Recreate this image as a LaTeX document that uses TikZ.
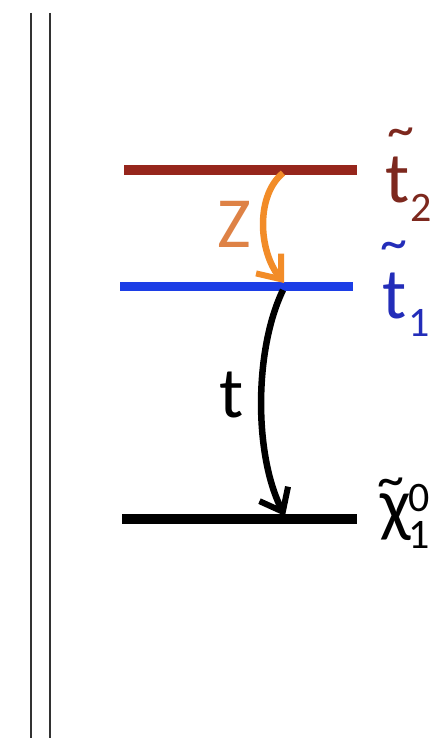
\documentclass[tikz,border=0pt]{standalone}
\usepackage{fontspec}
\setmainfont{Carlito}
\usetikzlibrary{arrows.meta}
\definecolor{stopred}{RGB}{150,38,28}
\definecolor{stopredtext}{RGB}{125,40,30}
\definecolor{stopblue}{RGB}{28,62,230}
\definecolor{stopbluetext}{RGB}{35,45,185}
\definecolor{zorange}{RGB}{242,140,40}
\definecolor{zorangetext}{RGB}{222,130,70}
\definecolor{rulegray}{RGB}{50,50,50}
\tikzset{
  level/.style={line width=10pt},
  decay/.style={line width=6.5pt,-{Straight Barb[length=20pt,width=32pt,line width=6pt]}},
  big/.style={inner sep=0pt,font=\fontsize{72}{80}\selectfont},
  small/.style={inner sep=0pt,font=\fontsize{42}{46}\selectfont},
  tild/.style={inner sep=0pt,font=\fontsize{54}{58}\selectfont},
  vrule/.style={line width=2pt,rulegray}
}
\begin{document}
\begin{tikzpicture}[x=1pt,y=-1pt]
\useasboundingbox[fill=white] (0,0) rectangle (433,738);
% vertical double line
\coordinate (v1t) at (31,13); \coordinate (v1b) at (31,738);
\coordinate (v2t) at (50,13); \coordinate (v2b) at (50,738);
\draw[vrule] (v1t) -- (v1b);
\draw[vrule] (v2t) -- (v2b);
% levels
\coordinate (t2l) at (124,170); \coordinate (t2r) at (357,170);
\coordinate (t1l) at (120,286); \coordinate (t1r) at (353,286);
\coordinate (cl) at (122,519); \coordinate (cr) at (357,519);
\draw[level,stopred] (t2l) -- (t2r);
\draw[level,stopblue,line width=9pt] (t1l) -- (t1r);
\draw[level,black] (cl) -- (cr);
% decay points
\coordinate (za) at (283,173);
\coordinate (zb) at (284,283);
\coordinate (ta) at (283,290);
\coordinate (tb) at (285,516);
\draw[decay,zorange] (za) .. controls (256,195) and (258,250) .. (zb);
\draw[decay,black] (ta) .. controls (254,350) and (254,455) .. (tb);
% decay labels
\node[big,zorangetext,anchor=base west] (zlab) at (217,247) {Z};
\node[big,black,anchor=base west] (tlab) at (219,417) {t};
% t2 label
\node[big,stopredtext,anchor=base west] (t2t) at (385,202) {t};
\node[small,stopredtext,anchor=base west] (t2s) at (410,221) {2};
\node[tild,stopredtext] (t2w) at (401,138) {\textasciitilde};
% t1 label
\node[big,stopbluetext,anchor=base west] (t1t) at (382,318) {t};
\node[small,stopbluetext,anchor=base west] (t1s) at (408,336) {1};
\node[tild,stopbluetext] (t1w) at (394,251) {\textasciitilde};
% chi label
\node[big,black,anchor=base west] (cht) at (380,528) {χ};
\node[small,black,anchor=base west] (chsup) at (408,511) {0};
\node[small,black,anchor=base west] (chsub) at (408,548) {1};
\node[tild,black] (chw) at (391,488) {\textasciitilde};
\end{tikzpicture}
\end{document}
